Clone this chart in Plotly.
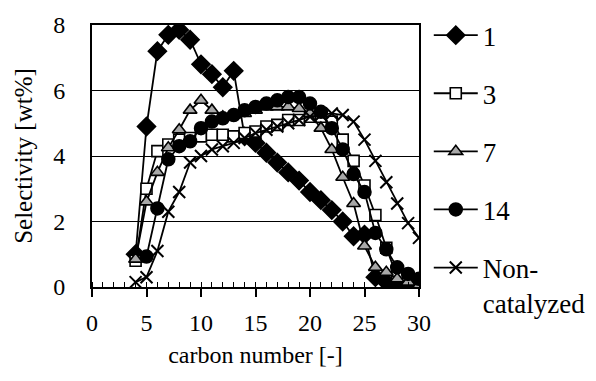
import plotly.graph_objects as go

carbon = list(range(4, 31))

sel_1 = [1.0, 4.9, 7.2, 7.7, 7.85, 7.55, 6.8, 6.5, 6.1, 6.6, 4.6, 4.4, 4.1, 3.8, 3.5,
         3.25, 2.9, 2.65, 2.35, 2.0, 1.55, 1.6, 0.3, 0.15, 0.05, 0.05, 0.05]
sel_3 = [0.8, 3.0, 4.15, 4.35, 4.5, 4.55, 4.6, 4.65, 4.65, 4.6, 4.7, 4.75, 4.9, 4.95, 5.1,
         5.1, 5.2, 5.2, 5.05, 4.5, 3.85, 3.1, 2.2, 1.2, 0.3, 0.2, 0.15]
sel_7 = [0.85, 2.6, 3.5, 4.25, 4.8, 5.4, 5.7, 5.4, 5.2, 5.25, 5.3, 5.4, 5.5, 5.5, 5.5,
         5.45, 5.3, 4.85, 4.2, 3.35, 2.55, 1.25, 0.6, 0.45, 0.25, 0.15, 0.05]
carbon_14 = list(range(5, 31))
sel_14 = [0.93, 2.4, 3.9, 4.3, 4.45, 4.85, 5.05, 5.15, 5.25, 5.4, 5.5, 5.6, 5.7, 5.8,
          5.8, 5.6, 5.35, 4.85, 4.2, 3.45, 2.9, 1.65, 1.15, 0.6, 0.4, 0.25]
sel_nc = [0.15, 0.3, 1.1, 2.3, 2.9, 3.8, 4.0, 4.2, 4.3, 4.4, 4.55, 4.7, 4.8, 4.9, 5.0,
          5.1, 5.2, 5.25, 5.3, 5.25, 5.05, 4.5, 3.85, 3.2, 2.55, 1.95, 1.5]

series_names = ["1", "3", "7", "14", "Non-<br>catalyzed"]

FONT = "Liberation Serif"
fig = go.Figure()

def add(x, y, name, symbol, size, fill, lw=1.5):
    fig.add_trace(go.Scatter(
        x=x, y=y, name=name, mode="lines+markers",
        line=dict(color="black", width=1.8),
        marker=dict(symbol=symbol, size=size, color=fill,
                    line=dict(color="black", width=lw)),
        legendgroup=name,
    ))

add(carbon, sel_1, series_names[0], "diamond", 14, "black")
add(carbon, sel_3, series_names[1], "square", 11, "white", 1.6)
add(carbon, sel_7, series_names[2], "triangle-up", 12, "#a8a8a8", 1.6)
add(carbon_14, sel_14, series_names[3], "circle", 13, "black")
add(carbon, sel_nc, series_names[4], "x-thin", 12, "black", 2)

fig.update_layout(
    width=596, height=381,
    margin=dict(l=84, r=185, t=17, b=102),
    paper_bgcolor="white", plot_bgcolor="white",
    font=dict(family=FONT, size=24, color="black"),
    showlegend=True,
    legend=dict(xref="container", x=0.706, y=1.053, xanchor="left", yanchor="top",
                font=dict(family=FONT, size=27, color="black"),
                tracegroupgap=20, itemwidth=44, valign="top",
                maxheight=381,
                bgcolor="rgba(0,0,0,0)"),
    xaxis=dict(range=[0, 30], dtick=5, tick0=0, showgrid=False, automargin=False,
               showline=True, linecolor="black", linewidth=2, mirror=True,
               ticks="outside", ticklen=8, tickwidth=1.5, tickcolor="black",
               ticklabelstandoff=5,
               minor=dict(dtick=1, ticks="inside", ticklen=5, tickwidth=1.2,
                          tickcolor="black", showgrid=False),
               tickfont=dict(family=FONT, size=24),
               title=dict(text="carbon number [-]", font=dict(family=FONT, size=24),
                          standoff=11),
               zeroline=False),
    yaxis=dict(range=[0, 8], dtick=2, tick0=0, showgrid=True, automargin=False,
               gridcolor="black", gridwidth=1.2,
               showline=True, linecolor="black", linewidth=2, mirror=True,
               ticks="", ticklabelstandoff=20,
               tickfont=dict(family=FONT, size=24),
               title=dict(text="Selectivity [wt%]", font=dict(family=FONT, size=25),
                          standoff=13),
               zeroline=False),
)

fig.write_html("out.html")
